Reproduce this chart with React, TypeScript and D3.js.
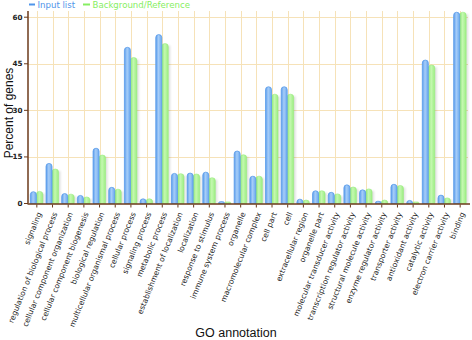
import React from 'react'
import * as d3 from 'd3'

const categories = [
  'signaling',
  'regulation of biological process',
  'cellular component organization',
  'cellular component biogenesis',
  'biological regulation',
  'multicellular organismal process',
  'cellular process',
  'signaling process',
  'metabolic process',
  'establishment of localization',
  'localization',
  'response to stimulus',
  'immune system process',
  'organelle',
  'macromolecular complex',
  'cell part',
  'cell',
  'extracellular region',
  'organelle part',
  'molecular transducer activity',
  'transcription regulator activity',
  'structural molecule activity',
  'enzyme regulator activity',
  'transporter activity',
  'antioxidant activity',
  'catalytic activity',
  'electron carrier activity',
  'binding',
]

const inputList = [
  3.8, 12.9, 3.2, 2.6, 17.8, 5.2, 50.3, 1.5, 54.4, 9.7, 9.8, 10.1, 0.6, 16.9,
  8.8, 37.6, 37.6, 1.4, 4.1, 3.6, 6.0, 4.4, 0.7, 6.2, 1.0, 46.2, 2.7, 61.6,
]

const reference = [
  3.9, 11.1, 3.0, 2.1, 15.6, 4.6, 47.0, 1.5, 51.5, 9.6, 9.5, 8.3, 0.5, 15.7,
  8.8, 35.2, 35.2, 1.1, 4.1, 3.1, 5.3, 4.7, 1.1, 5.8, 0.5, 44.6, 1.8, 61.6,
]

const yTicks = [0, 15, 30, 45, 60]

const W = 472
const H = 340
const left = 29
const right = 468
const top = 11
const bottom = 203.5

const axisColor = '#6b3a1a'
const gridColor = '#f6e2b8'

// bar outline with a rounded top
function barPath(x: number, y: number, w: number, h: number) {
  const r = Math.min(w / 2, 3, h)
  return `M${x},${y + h} L${x},${y + r} Q${x},${y} ${x + r},${y} L${x + w - r},${y} Q${x + w},${y} ${x + w},${y + r} L${x + w},${y + h} Z`
}

export default function App() {
  const x = d3.scaleBand<string>().domain(categories).range([left, right]).paddingInner(0)
  const y = d3.scaleLinear().domain([0, 62]).range([bottom, top])
  const step = x.step()
  const cx = (c: string) => (x(c) as number) + step / 2

  return (
    <svg
      width={W}
      height={H}
      style={{ position: 'absolute', left: 0, top: 0, background: '#fff' }}
      fontFamily="DejaVu Sans, Verdana, sans-serif"
    >
      <defs>
        <linearGradient id="blueG" x1="0" x2="1" y1="0" y2="0">
          <stop offset="0" stopColor="#5a9cec" />
          <stop offset="0.45" stopColor="#a6cdf8" />
          <stop offset="1" stopColor="#6aa8f0" />
        </linearGradient>
        <linearGradient id="greenG" x1="0" x2="1" y1="0" y2="0">
          <stop offset="0" stopColor="#8ee874" />
          <stop offset="0.45" stopColor="#c4f8b0" />
          <stop offset="1" stopColor="#9cee82" />
        </linearGradient>
        <filter id="soft" x="-50%" y="-10%" width="200%" height="120%">
          <feGaussianBlur stdDeviation="1.2" />
        </filter>
      </defs>

      {/* legend */}
      <g fontSize={8.6}>
        <line x1={29} x2={35} y1={4.5} y2={4.5} stroke="#4f95ea" strokeWidth={2} />
        <text x={37.5} y={8} fill="#4f95ea">Input list</text>
        <line x1={83} x2={90} y1={4.5} y2={4.5} stroke="#86ee62" strokeWidth={2} />
        <text x={92.5} y={8} fill="#86ee62">Background/Reference</text>
      </g>

      {/* grid */}
      <g stroke={gridColor} strokeWidth={1}>
        {yTicks.filter(t => t > 0).map(t => (
          <line key={t} x1={left - 1} x2={right} y1={Math.round(y(t)) + 0.5} y2={Math.round(y(t)) + 0.5} />
        ))}
        {categories.map(c => (
          <line key={c} x1={Math.round(cx(c)) + 0.5} x2={Math.round(cx(c)) + 0.5} y1={top} y2={bottom} />
        ))}
      </g>

      {/* bars */}
      {categories.map((c, i) => {
        const c0 = cx(c)
        const yb = y(inputList[i])
        const yg = y(reference[i])
        return (
          <g key={c}>
            <rect x={c0 + 2} y={yg + 2} width={6} height={bottom - yg - 2} fill="#000" opacity={0.12} filter="url(#soft)" />
            <path d={barPath(c0 - 0.5, yg, 6.5, bottom - yg)} fill="url(#greenG)" stroke="#9bec80" strokeWidth={0.6} />
            <path d={barPath(c0 - 6.5, yb, 6, bottom - yb)} fill="url(#blueG)" stroke="#5b9cea" strokeWidth={0.8} />
          </g>
        )
      })}

      {/* y axis */}
      <line x1={28} x2={28} y1={top} y2={bottom} stroke={axisColor} strokeWidth={1.5} />
      {yTicks.map(t => (
        <g key={t} transform={`translate(0,${y(t)})`}>
          <line x1={24} x2={28} stroke={axisColor} strokeWidth={1} />
          <text x={22.5} dy="0.32em" textAnchor="end" fontSize={7.2} fontWeight="bold" fill="#222">
            {t}
          </text>
        </g>
      ))}

      {/* x axis */}
      <line x1={27.5} x2={right + 2} y1={bottom + 0.5} y2={bottom + 0.5} stroke={axisColor} strokeWidth={1.6} />
      {categories.map(c => (
        <line key={c} x1={cx(c)} x2={cx(c)} y1={bottom + 1} y2={bottom + 4} stroke={axisColor} strokeWidth={1} />
      ))}
      {categories.map(c => (
        <text
          key={c}
          transform={`translate(${cx(c) + 2.5},${bottom + 9}) rotate(-68)`}
          textAnchor="end"
          dy="0.35em"
          fontSize={7.6}
          fill="#222"
        >
          {c}
        </text>
      ))}

      {/* axis titles */}
      <text
        transform="translate(13,113) rotate(-90)"
        textAnchor="middle"
        fontFamily="Liberation Sans, Arial, sans-serif"
        fontSize={12}
        fill="#111"
      >
        Percent of genes
      </text>
      <text x={236} y={337} textAnchor="middle" fontFamily="Liberation Sans, Arial, sans-serif" fontSize={12.5} fill="#111">
        GO annotation
      </text>
    </svg>
  )
}
